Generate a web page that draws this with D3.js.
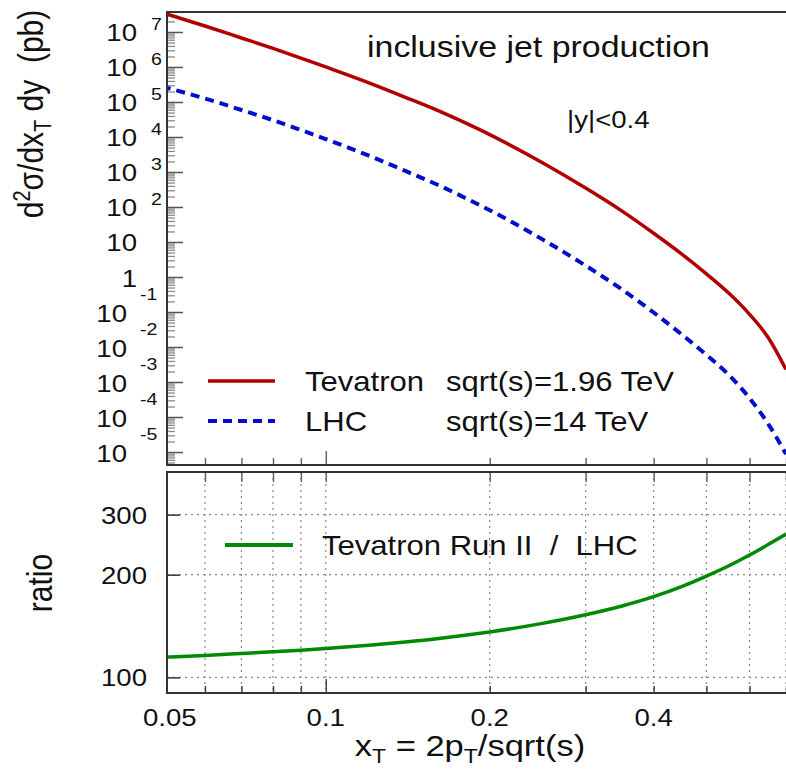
<!DOCTYPE html>
<html>
<head>
<meta charset="utf-8">
<script src="https://cdn.jsdelivr.net/npm/d3@7"></script>
<style>
  body { margin: 0; background: #fff; }
  svg { display: block; }
  text { font-family: "Liberation Sans", Arial, sans-serif; fill: #111; white-space: pre; }
</style>
</head>
<body>
<script>
// values
var xT = [0.05, 0.06, 0.07, 0.08, 0.09, 0.1, 0.12, 0.14, 0.16, 0.18, 0.2, 0.25, 0.3, 0.35, 0.4, 0.45, 0.5, 0.55, 0.6, 0.65, 0.7];
var tevatron = [3.61e7, 1.48e7, 6.74e6, 3.4e6, 1.8e6, 1.0e6, 3.52e5, 1.36e5, 5.83e4, 2.56e4, 1.17e4, 1840, 347, 76.3, 17.8, 4.57, 1.23, 0.342, 0.0859, 0.0181, 0.00228];
var lhc = [2.77e5, 1.26e5, 5.91e4, 3.02e4, 1.58e4, 8710, 2920, 1070, 440, 184, 81, 11.9, 2.12, 0.44, 0.0968, 0.0231, 0.00598, 0.00158, 3.47e-4, 6.18e-5, 8.71e-6];
var ratio = [114.5, 116, 117.5, 118.9, 120.2, 121.5, 124.2, 127, 129.8, 132.8, 135.9, 144, 152.6, 161.9, 172.4, 184.5, 198.1, 212.4, 228.3, 245.5, 263];

var xTicks = [0.06, 0.07, 0.08, 0.09, 0.1, 0.2, 0.3, 0.4, 0.5, 0.6, 0.7];
var xTickLabels = [0.05, 0.1, 0.2, 0.4];
var yExponents = [7, 6, 5, 4, 3, 2, 1, 0, -1, -2, -3, -4, -5];
var ratioTicks = [100, 200, 300];

var legendTop = [
  { name: 'Tevatron', energy: 'sqrt(s)=1.96 TeV', color: '#b00000', dash: null },
  { name: 'LHC', energy: 'sqrt(s)=14 TeV', color: '#0010c8', dash: '9,6' }
];

var W = 786, H = 774, SX = 1.15;
var left = 167, right = 786;
var top1 = 12, bot1 = 465, top2 = 472, bot2 = 693;

var x = d3.scaleLog().domain([0.0511, 0.7]).range([left, right]);
var y1 = d3.scaleLog().domain([4.26e-6, 3.72e7]).range([bot1, top1]);
var y2 = d3.scaleLog().domain([90, 400]).range([bot2, top2]);

var svg = d3.select('body').append('svg').attr('width', W).attr('height', H);
svg.append('rect').attr('width', W).attr('height', H).attr('fill', '#fff');

function label(g, str, px, py, size, anchor) {
  return g.append('text')
    .attr('transform', 'translate(' + px + ',' + py + ') scale(' + SX + ',1)')
    .attr('text-anchor', anchor || 'start')
    .attr('font-size', size)
    .text(str);
}

var defs = svg.append('defs');
defs.append('clipPath').attr('id', 'clip1').append('rect')
  .attr('x', left).attr('y', top1).attr('width', right - left).attr('height', bot1 - top1);
defs.append('clipPath').attr('id', 'clip2').append('rect')
  .attr('x', left).attr('y', top2).attr('width', right - left).attr('height', bot2 - top2);

/* ---------- top panel ---------- */
var minors = [];
for (var e = -6; e < 8; e++) {
  for (var m = 2; m < 10; m++) {
    var v = m * Math.pow(10, e);
    if (v > y1.domain()[0] && v < y1.domain()[1]) minors.push(v);
  }
}
svg.append('g').attr('transform', 'translate(' + left + ',0)')
  .call(d3.axisLeft(y1).tickValues(minors).tickSize(-8).tickFormat(''))
  .call(function (g) {
    g.select('.domain').remove();
    g.selectAll('line').attr('stroke', '#8a8a8a').attr('stroke-width', 1.3);
  });
svg.append('g').attr('transform', 'translate(' + left + ',0)')
  .call(d3.axisLeft(y1).tickValues(yExponents.map(function (p) { return Math.pow(10, p); })).tickSize(-16).tickFormat(''))
  .call(function (g) {
    g.select('.domain').remove();
    g.selectAll('line').attr('stroke', '#555').attr('stroke-width', 1.5);
  });

// y tick labels, 10 with exponent
var yLab = svg.append('g');
yExponents.forEach(function (p) {
  var ty = y1(Math.pow(10, p));
  if (p === 0) {
    label(yLab, '1', 137, ty + 9.5, 24, 'end');
  } else if (p === 1) {
    label(yLab, '10', 137, ty + 9.5, 24, 'end');
  } else if (p > 0) {
    label(yLab, '10', 137, ty + 9.5, 24, 'end');
    label(yLab, String(p), 151, ty - 2, 17, 'start');
  } else {
    label(yLab, '10', 127, ty + 9.5, 24, 'end');
    label(yLab, String(p), 140, ty - 12, 17, 'start');
  }
});

// x ticks along the bottom of the top panel
svg.append('g').attr('transform', 'translate(0,' + bot1 + ')')
  .call(d3.axisBottom(x).tickValues(xTicks).tickSize(-7).tickFormat(''))
  .call(function (g) {
    g.select('.domain').remove();
    g.selectAll('line').attr('stroke', '#666').attr('stroke-width', 1.5)
      .attr('y2', function (d) { return d === 0.1 ? -14 : -7; });
  });

var line1 = d3.line()
  .x(function (d) { return x(d[0]); })
  .y(function (d) { return y1(d[1]); })
  .curve(d3.curveMonotoneX);

var curves = svg.append('g').attr('clip-path', 'url(#clip1)');
curves.append('path')
  .datum(d3.zip(xT, tevatron))
  .attr('d', line1).attr('fill', 'none')
  .attr('stroke', legendTop[0].color).attr('stroke-width', 3.5);
curves.append('path')
  .datum(d3.zip(xT, lhc))
  .attr('d', line1).attr('fill', 'none')
  .attr('stroke', legendTop[1].color).attr('stroke-width', 4)
  .attr('stroke-dasharray', legendTop[1].dash);

svg.append('rect')
  .attr('x', left).attr('y', top1).attr('width', right - left + 20).attr('height', bot1 - top1)
  .attr('fill', 'none').attr('stroke', '#333').attr('stroke-width', 2);

label(svg, 'inclusive jet production', 367, 57, 29.5, 'start');
label(svg, '|y|<0.4', 567, 128, 24, 'start');

legendTop.forEach(function (s, i) {
  var ly = 381 + i * 40;
  svg.append('line').attr('x1', 208).attr('x2', 275).attr('y1', ly).attr('y2', ly)
    .attr('stroke', s.color).attr('stroke-width', i === 0 ? 3.5 : 4)
    .attr('stroke-dasharray', s.dash);
  label(svg, s.name, 305, ly + 10, 27, 'start');
  label(svg, s.energy, 446, ly + 10, 27, 'start');
});

/* ---------- ratio panel ---------- */
var grid = svg.append('g').attr('stroke', '#888').attr('stroke-width', 1.2).attr('stroke-dasharray', '2,4');
xTicks.forEach(function (t) {
  grid.append('line').attr('x1', x(t)).attr('x2', x(t)).attr('y1', top2).attr('y2', bot2);
});
ratioTicks.forEach(function (t) {
  grid.append('line').attr('x1', left).attr('x2', right).attr('y1', y2(t)).attr('y2', y2(t));
});

svg.append('g').attr('transform', 'translate(0,' + bot2 + ')')
  .call(d3.axisBottom(x).tickValues(xTicks).tickSize(-7).tickFormat(''))
  .call(function (g) {
    g.select('.domain').remove();
    g.selectAll('line').attr('stroke', '#444').attr('stroke-width', 1.5)
      .attr('y2', function (d) { return d === 0.1 ? -14 : -7; });
  });
svg.append('g').attr('transform', 'translate(0,' + top2 + ')')
  .call(d3.axisBottom(x).tickValues(xTicks).tickSize(10).tickFormat(''))
  .call(function (g) {
    g.select('.domain').remove();
    g.selectAll('line').attr('stroke', '#666').attr('stroke-width', 1.5);
  });
svg.append('g').attr('transform', 'translate(' + left + ',0)')
  .call(d3.axisLeft(y2).tickValues(ratioTicks).tickSize(-13).tickFormat(''))
  .call(function (g) {
    g.select('.domain').remove();
    g.selectAll('line').attr('stroke', '#333').attr('stroke-width', 1.5);
  });

ratioTicks.forEach(function (t) {
  label(svg, String(t), 147, y2(t) + 9, 24, 'end');
});
xTickLabels.forEach(function (t) {
  label(svg, String(t), x(t) + (t === 0.05 ? 8 : 0), 726, 24, 'middle');
});

var line2 = d3.line()
  .x(function (d) { return x(d[0]); })
  .y(function (d) { return y2(d[1]); })
  .curve(d3.curveMonotoneX);
svg.append('g').attr('clip-path', 'url(#clip2)')
  .append('path')
  .datum(d3.zip(xT, ratio))
  .attr('d', line2).attr('fill', 'none')
  .attr('stroke', '#008a00').attr('stroke-width', 3.5);

svg.append('rect')
  .attr('x', left).attr('y', top2).attr('width', right - left + 20).attr('height', bot2 - top2)
  .attr('fill', 'none').attr('stroke', '#333').attr('stroke-width', 2);

svg.append('line').attr('x1', 225).attr('x2', 293).attr('y1', 545).attr('y2', 545)
  .attr('stroke', '#008a00').attr('stroke-width', 4);
label(svg, 'Tevatron Run II  /  LHC', 322, 555, 27, 'start');

/* ---------- axis titles ---------- */
var yt = svg.append('text')
  .attr('transform', 'translate(43,114) scale(' + SX + ',1) rotate(-90)')
  .attr('text-anchor', 'middle').attr('font-size', 30);
yt.append('tspan').text('d');
yt.append('tspan').attr('dy', -11).attr('font-size', 20).text('2');
yt.append('tspan').attr('dy', 11).text('σ/dx');
yt.append('tspan').attr('dy', 7).attr('font-size', 20).text('T');
yt.append('tspan').attr('dy', -7).text(' dy  (pb)');

svg.append('text')
  .attr('transform', 'translate(52,583) scale(' + SX + ',1) rotate(-90)')
  .attr('text-anchor', 'middle').attr('font-size', 30).text('ratio');

var xt = svg.append('text')
  .attr('transform', 'translate(470,756) scale(' + SX + ',1)')
  .attr('text-anchor', 'middle').attr('font-size', 30);
xt.append('tspan').text('x');
xt.append('tspan').attr('dy', 7).attr('font-size', 20).text('T');
xt.append('tspan').attr('dy', -7).text(' = 2p');
xt.append('tspan').attr('dy', 7).attr('font-size', 20).text('T');
xt.append('tspan').attr('dy', -7).text('/sqrt(s)');
</script>
</body>
</html>
